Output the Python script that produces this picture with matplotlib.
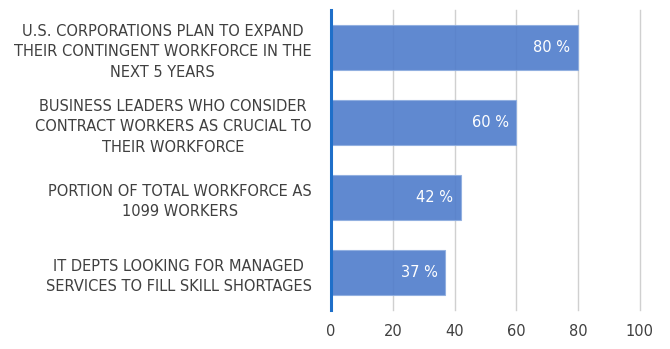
import matplotlib.pyplot as plt

labels = [
    "U.S. CORPORATIONS PLAN TO EXPAND\nTHEIR CONTINGENT WORKFORCE IN THE\nNEXT 5 YEARS",
    "BUSINESS LEADERS WHO CONSIDER\nCONTRACT WORKERS AS CRUCIAL TO\nTHEIR WORKFORCE",
    "PORTION OF TOTAL WORKFORCE AS\n1099 WORKERS",
    "IT DEPTS LOOKING FOR MANAGED\nSERVICES TO FILL SKILL SHORTAGES",
]
values = [80, 60, 42, 37]
xticks = [0, 20, 40, 60, 80, 100]

text_color = "#404040"
bar_color = "#4F7CCB"

fig = plt.figure(figsize=(6.7, 3.49), dpi=100)
ax = fig.add_axes([0.494, 0.112, 0.461, 0.859])

pos = list(range(len(values)))
ax.barh(pos, values, height=0.6, color=bar_color, alpha=0.9,
        edgecolor="#8FAEE0", linewidth=0.8, zorder=3)

# value labels sit inside the bar end
for p, v in zip(pos, values):
    ax.text(v - 2.5, p, f"{v} %", ha="right", va="center",
            color="white", fontsize=10.5, zorder=4)

ax.set_xlim(0, 100)
ax.set_ylim(3.5, -0.5)
ax.set_xticks(xticks)
ax.set_xticklabels([str(t) for t in xticks], fontsize=10.5, color=text_color)
ax.set_yticks(pos)
ax.set_yticklabels(labels, fontsize=10.5, color=text_color,
                   multialignment="center", linespacing=1.45)
ax.tick_params(axis="both", length=0)
ax.tick_params(axis="y", pad=14)
ax.tick_params(axis="x", pad=10)

ax.grid(axis="x", color="#D0D0D0", linewidth=1.0, zorder=0)
ax.set_axisbelow(True)
for line in ax.get_xgridlines():
    line.set_clip_on(False)
for s in ["top", "right", "bottom"]:
    ax.spines[s].set_visible(False)
ax.spines["left"].set_color("#1F6FC9")
ax.spines["left"].set_linewidth(2.2)
ax.spines["left"].set_zorder(5)

fig.savefig("out.png", dpi=100)
